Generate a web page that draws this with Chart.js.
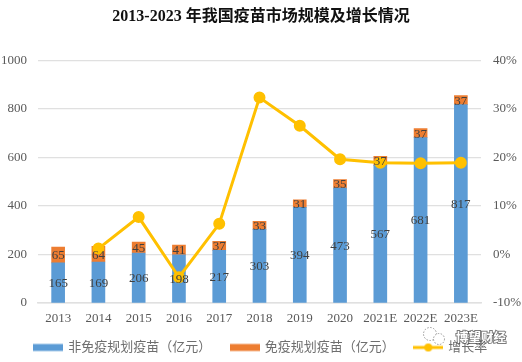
<!doctype html>
<html lang="zh">

<head>
    <meta charset="utf-8">
    <title>疫苗市场规模</title>
    <script src="https://cdn.jsdelivr.net/npm/chart.js@4.4.1/dist/chart.umd.min.js"></script>
    <style>
        html, body { margin: 0; padding: 0; background: #fff; }
        #wrap { width: 522px; height: 362px; }
    </style>
</head>

<body>
    <div id="wrap"><canvas id="myChart" width="522" height="362"></canvas></div>
</body>
<script>
    const years = ["2013", "2014", "2015", "2016", "2017", "2018", "2019", "2020", "2021E", "2022E", "2023E"];
    const nonPlan = [165, 169, 206, 198, 217, 303, 394, 473, 567, 681, 817];
    const plan = [65, 64, 45, 41, 37, 33, 31, 35, 37, 37, 37];
    const growth = [null, 1.2, 7.7, -4.7, 6.3, 32.3, 26.5, 19.6, 18.9, 18.8, 18.9];

    const serif = '"Liberation Serif", "Noto Sans CJK SC", serif';

    // legend swatches, drawn once and handed to chart.js as point styles
    let swatch = (color, isLine) => {
        let c = document.createElement("canvas");
        c.width = 30;
        c.height = 12;
        let g = c.getContext("2d");
        g.fillStyle = color;
        if (isLine) {
            g.fillRect(0, 4.5, 30, 3);
            g.beginPath();
            g.arc(15, 6, 4, 0, Math.PI * 2);
            g.fill();
        } else {
            g.fillRect(0, 2.5, 30, 7);
        }
        return c;
    };

    // value labels on the bars
    let barLabels = {
        id: "barLabels",
        afterDatasetsDraw(chart) {
            let ctx = chart.ctx;
            ctx.save();
            ctx.font = "13px " + serif;
            ctx.fillStyle = "#404040";
            ctx.textAlign = "center";
            ctx.textBaseline = "middle";
            [0, 1].forEach(i => {
                chart.getDatasetMeta(i).data.forEach((bar, k) => {
                    let p = bar.getProps(["x", "y", "base"], true);
                    ctx.fillText(chart.data.datasets[i].data[k], p.x, (p.y + p.base) / 2 + 1);
                });
            });
            ctx.restore();
        }
    };

    // legend padding is large for the item gap, so pull the box back up over the axis box
    let legendShift = {
        id: "legendShift",
        afterLayout(chart) {
            chart.legend.top -= 9;
        }
    };

    // account mark at the bottom right
    let watermark = {
        id: "watermark",
        afterDraw(chart) {
            let ctx = chart.ctx;
            ctx.save();
            ctx.setLineDash([1.5, 1.5]);
            ctx.lineWidth = 1;
            ctx.strokeStyle = "#999";
            ctx.fillStyle = "#fff";
            [[430, 334, 6.5], [439, 339, 5.5]].forEach(b => {
                ctx.beginPath();
                ctx.arc(b[0], b[1], b[2], 0, Math.PI * 2);
                ctx.fill();
                ctx.stroke();
            });
            ctx.setLineDash([]);
            ctx.font = 'bold 12.5px "Noto Sans CJK SC"';
            ctx.textBaseline = "middle";
            ctx.lineWidth = 2;
            ctx.strokeStyle = "rgba(70,70,70,0.7)";
            ctx.strokeText("博望财经", 456, 337);
            ctx.fillText("博望财经", 456, 337);
            ctx.restore();
        }
    };

    new Chart(document.getElementById("myChart"), {
        data: {
            labels: years,
            datasets: [
                {
                    type: "bar",
                    label: "非免疫规划疫苗（亿元）",
                    data: nonPlan,
                    backgroundColor: "#5B9BD5",
                    yAxisID: "y",
                    stack: "s",
                    barThickness: 13,
                    order: 2
                },
                {
                    type: "bar",
                    label: "免疫规划疫苗（亿元）",
                    data: plan,
                    backgroundColor: "#ED7D31",
                    yAxisID: "y",
                    stack: "s",
                    barThickness: 13,
                    order: 2
                },
                {
                    type: "line",
                    label: "增长率",
                    data: growth,
                    borderColor: "#FFC000",
                    backgroundColor: "#FFC000",
                    borderWidth: 3,
                    pointRadius: 4.5,
                    yAxisID: "y1",
                    tension: 0,
                    order: 1
                }
            ]
        },
        options: {
            responsive: false,
            animation: false,
            layout: { padding: { top: 4, bottom: -11, left: 0, right: 0 } },
            scales: {
                x: {
                    stacked: true,
                    afterFit: s => { s.height = 27; },
                    grid: { display: false },
                    border: { color: "#E0E0E0", width: 1.5 },
                    ticks: { color: "#595959", font: { family: serif, size: 13 }, padding: 0, maxRotation: 0, autoSkip: false }
                },
                y: {
                    stacked: true,
                    min: 0,
                    max: 1000,
                    afterFit: s => { s.width = 38; },
                    grid: { color: "#E0E0E0", lineWidth: 1.3, drawTicks: false },
                    border: { display: false },
                    ticks: { stepSize: 200, color: "#595959", font: { family: serif, size: 13 }, padding: 11, callback: v => v }
                },
                y1: {
                    position: "right",
                    min: -10,
                    max: 40,
                    afterFit: s => { s.width = 41; },
                    grid: { display: false, drawTicks: false },
                    border: { display: false },
                    ticks: { stepSize: 10, color: "#595959", font: { family: serif, size: 13 }, padding: 12, callback: v => v + "%" }
                }
            },
            plugins: {
                title: {
                    display: true,
                    text: "2013-2023 年我国疫苗市场规模及增长情况",
                    color: "#111",
                    font: { family: serif, size: 16, weight: "bold" },
                    padding: { top: 3, bottom: 34 }
                },
                legend: {
                    position: "bottom",
                    labels: {
                        usePointStyle: true,
                        pointStyleWidth: 27,
                        color: "#6e6e6e",
                        font: { family: serif, size: 13 },
                        padding: 20,
                        generateLabels: chart => chart.data.datasets.map((d, i) => ({
                            text: d.label,
                            datasetIndex: i,
                            fontColor: "#6e6e6e",
                            lineWidth: 0,
                            strokeStyle: "transparent",
                            pointStyle: swatch(d.backgroundColor, d.type === "line")
                        }))
                    }
                },
                tooltip: { enabled: false }
            }
        },
        plugins: [barLabels, legendShift, watermark]
    });
</script>

</html>
